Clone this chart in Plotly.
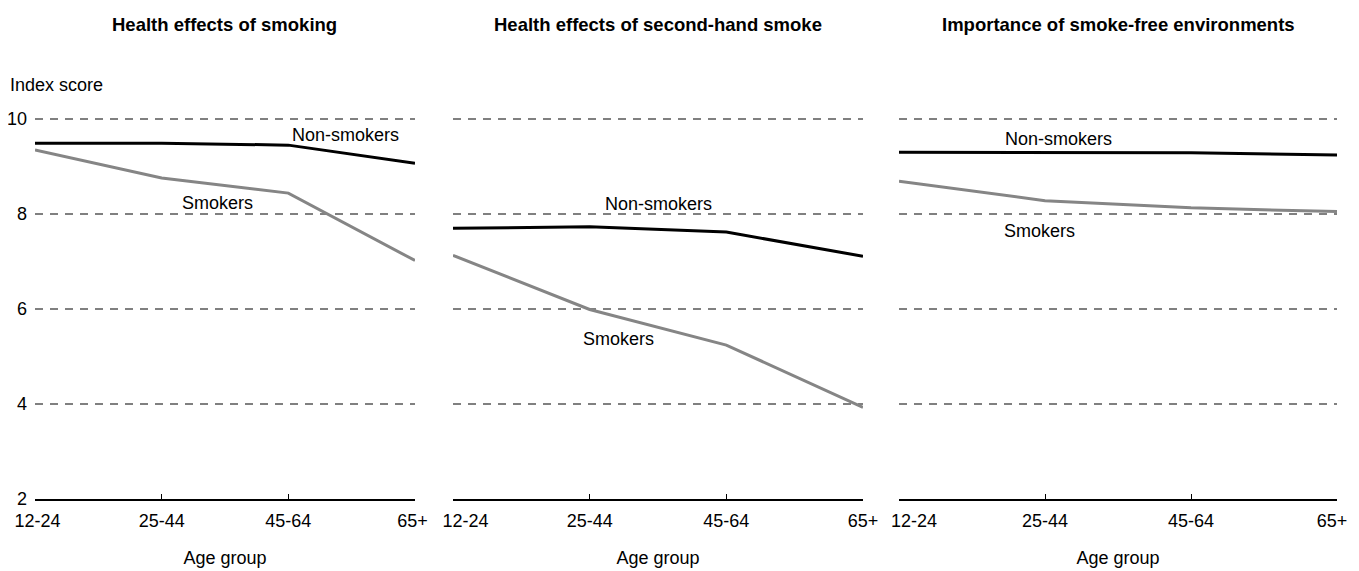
import plotly.graph_objects as go

age_groups = ["12-24", "25-44", "45-64", "65+"]
panel_titles = ["Health effects of smoking",
                "Health effects of second-hand smoke",
                "Importance of smoke-free environments"]
non_smokers = [
    [9.49, 9.49, 9.45, 9.07],
    [7.70, 7.73, 7.62, 7.11],
    [9.30, 9.29, 9.29, 9.24],
]
smokers = [
    [9.35, 8.76, 8.44, 7.02],
    [7.13, 5.99, 5.24, 3.93],
    [8.69, 8.28, 8.13, 8.05],
]
y_ticks = [2, 4, 6, 8, 10]

# the page body adds an 8px margin; lay out in page pixels and shift
OFF = 8
W, H = 1359 - OFF, 571 - OFF
FONT = "Liberation Sans, Arial, sans-serif"
FS = 18
NB = "\u00a0"


def px(x):
    return (x - OFF) / W


def py(y):
    return 1 - (y - OFF) / H


panels_px = [(35, 415), (453, 863), (899, 1337)]
# end tick labels are nudged inward (lead pad on first, trail pad on last)
end_pad = [(1, 1), (5, 0), (6, 2)]
y_lo, y_hi = 2.0, 10.06
px_per_unit = 47.5
plot_bot = 499
plot_top = plot_bot - (y_hi - y_lo) * px_per_unit
ydom = [py(plot_bot), py(plot_top)]

# label positions (x index, y value) for each panel
nonsm_lbl = [(2.45, 9.66), (1.50, 8.21), (1.09, 9.58)]
sm_lbl = [(1.44, 8.23), (1.21, 5.37), (0.96, 7.64)]

fig = go.Figure()
xs = list(range(len(age_groups)))
for i in range(3):
    ax = "" if i == 0 else str(i + 1)
    fig.add_trace(go.Scatter(x=xs, y=smokers[i], mode="lines",
                             line=dict(color="#858585", width=3),
                             xaxis="x" + ax, yaxis="y" + ax, showlegend=False,
                             cliponaxis=False, hoverinfo="skip"))
    fig.add_trace(go.Scatter(x=xs, y=non_smokers[i], mode="lines",
                             line=dict(color="#000000", width=3),
                             xaxis="x" + ax, yaxis="y" + ax, showlegend=False,
                             cliponaxis=False, hoverinfo="skip"))
    x0, x1 = panels_px[i]
    lead, trail = end_pad[i]
    ttext = list(age_groups)
    ttext[0] = NB * lead + ttext[0]
    ttext[-1] = ttext[-1] + NB * trail
    xa = dict(domain=[px(x0), px(x1)], range=[0, 3], tickmode="array",
              tickvals=xs, ticktext=ttext, showline=True,
              linecolor="#000000", linewidth=1.5, ticks="inside", ticklen=5,
              tickcolor="#000000", tickwidth=1, showgrid=False, zeroline=False,
              tickfont=dict(family=FONT, size=FS, color="#000000"),
              anchor="y" + ax, fixedrange=True, automargin=False,
              ticklabelstandoff=5,
              title=dict(text="Age group", font=dict(family=FONT, size=FS, color="#000000"),
                         standoff=21))
    ya = dict(domain=ydom, range=[y_lo, y_hi], tickmode="array", tickvals=y_ticks,
              showgrid=True, gridcolor="#808080", gridwidth=1.5, griddash="8px,7px",
              zeroline=False, showline=False, ticks="",
              showticklabels=(i == 0), automargin=False,
              tickfont=dict(family=FONT, size=FS, color="#000000"),
              anchor="x" + ax, fixedrange=True, ticklabelstandoff=7)
    fig.layout["xaxis" + ax] = xa
    fig.layout["yaxis" + ax] = ya
    fig.add_annotation(x=px((x0 + x1) / 2), y=py(25), xref="paper", yref="paper",
                       text="<b>" + panel_titles[i] + "</b>", showarrow=False,
                       font=dict(family=FONT, size=18.5, color="#000000"),
                       xanchor="center", yanchor="middle")
    fig.add_annotation(x=nonsm_lbl[i][0], y=nonsm_lbl[i][1], xref="x" + ax, yref="y" + ax,
                       text="Non-smokers", showarrow=False,
                       font=dict(family=FONT, size=FS, color="#000000"),
                       xanchor="center", yanchor="middle")
    fig.add_annotation(x=sm_lbl[i][0], y=sm_lbl[i][1], xref="x" + ax, yref="y" + ax,
                       text="Smokers", showarrow=False,
                       font=dict(family=FONT, size=FS, color="#000000"),
                       xanchor="center", yanchor="middle")

fig.add_annotation(x=px(8), y=py(85), xref="paper", yref="paper",
                   text="Index score", showarrow=False,
                   font=dict(family=FONT, size=FS, color="#000000"),
                   xanchor="left", yanchor="middle")

fig.update_layout(width=W, height=H, margin=dict(l=0, r=0, t=0, b=0),
                  paper_bgcolor="white", plot_bgcolor="white")
fig.write_html("out.html")
